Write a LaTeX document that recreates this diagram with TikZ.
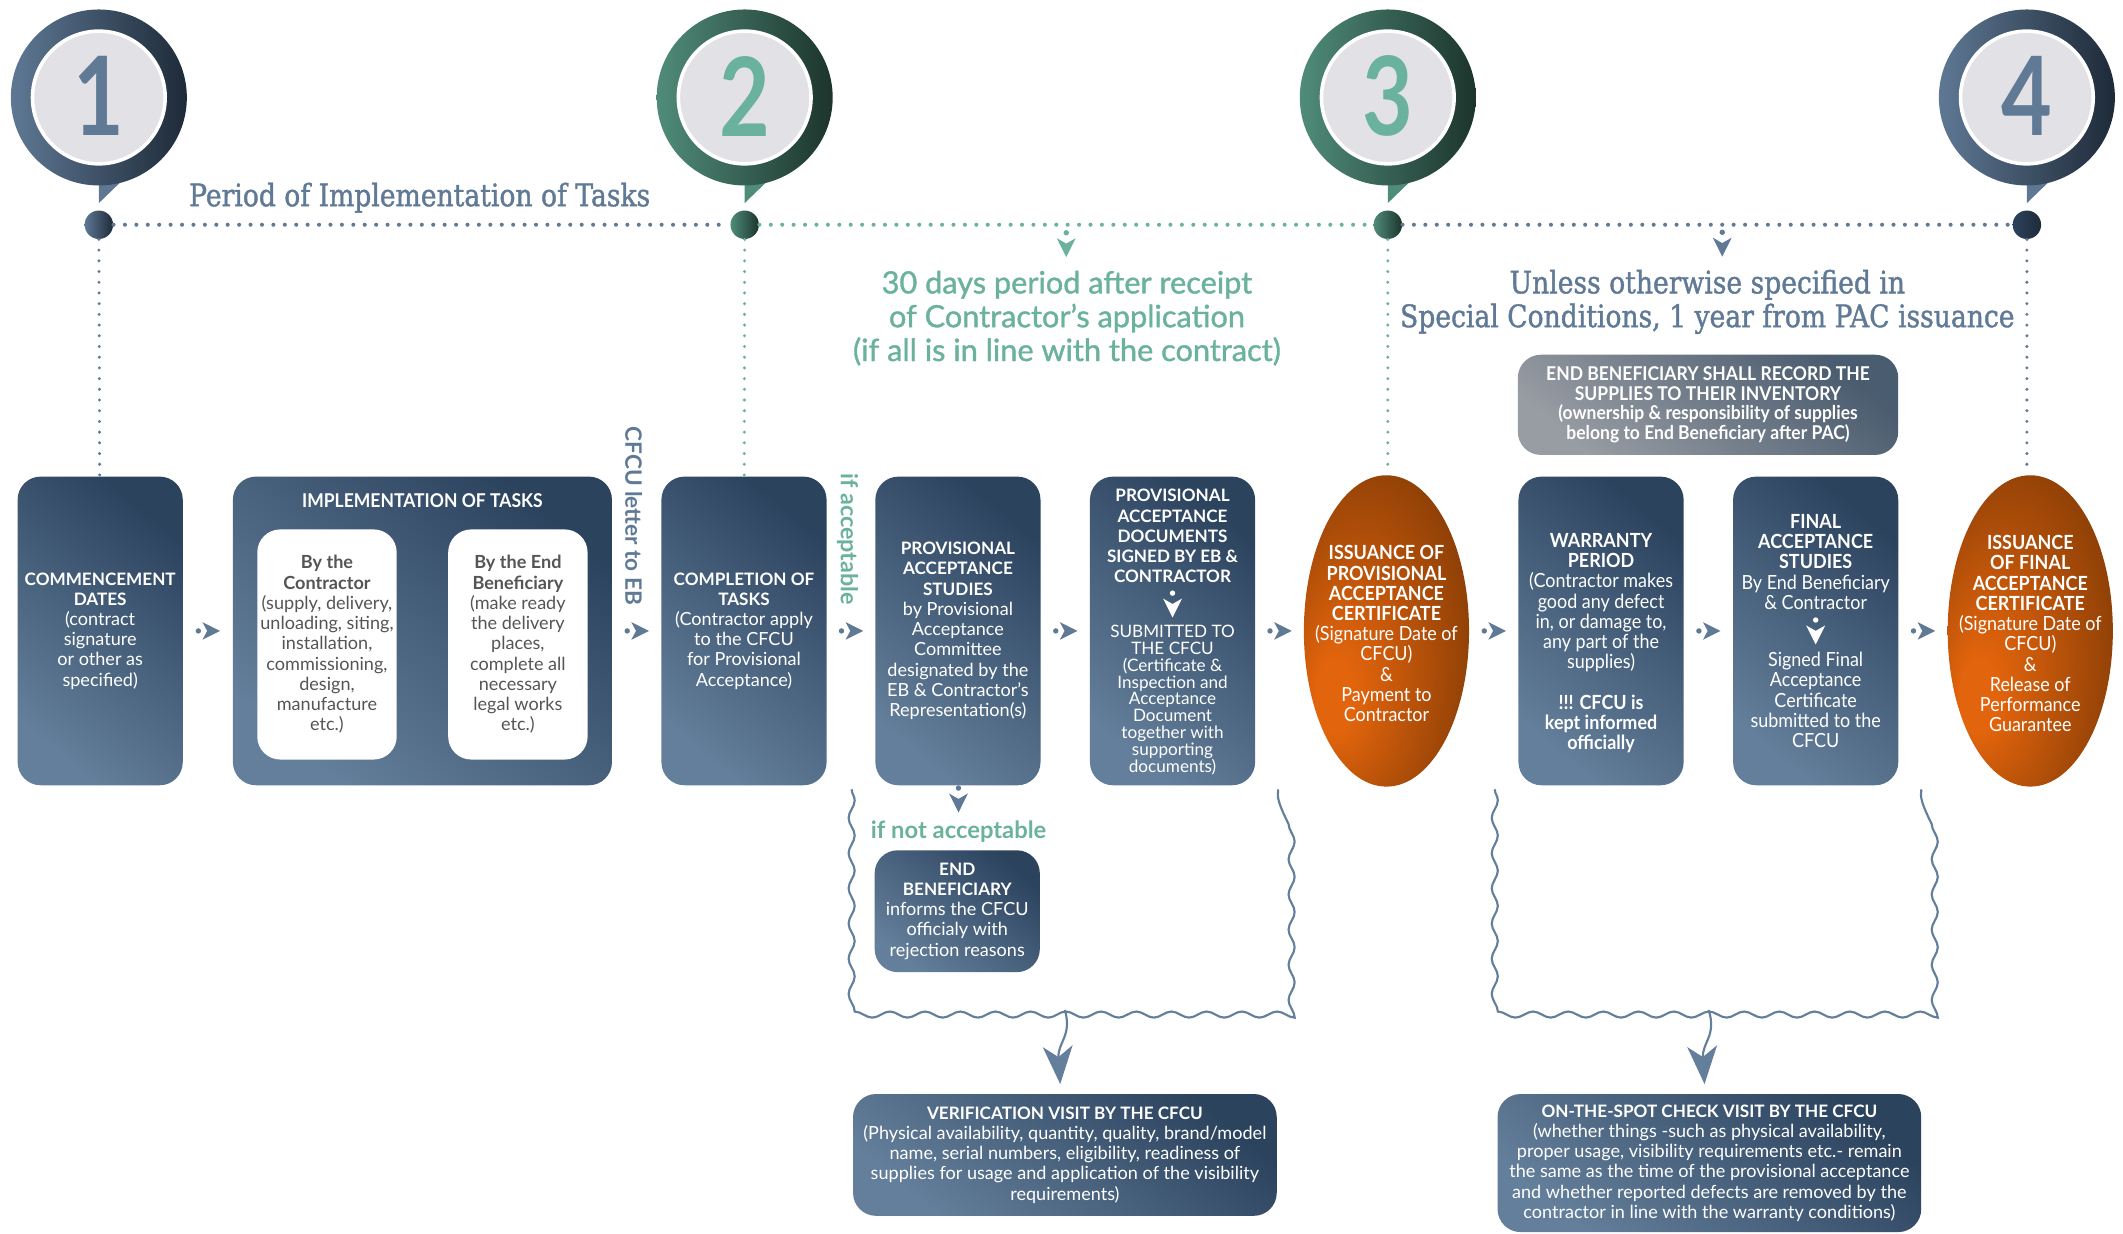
\documentclass[tikz,border=0pt]{standalone}
\usepackage{fontspec}
\setmainfont{Lato}
\newfontfamily\condfont[FakeStretch=0.92]{Lato}
\newfontfamily\digitfont[FakeStretch=0.8]{Lato}
\newfontfamily\medfont[FakeBold=1.2]{Lato}
\newfontfamily\slabfont[FakeStretch=0.86, FakeBold=1.3]{DejaVu Serif}
\usetikzlibrary{positioning, arrows.meta, calc, shapes.geometric, decorations.pathmorphing, decorations.markings}
\definecolor{navy}{RGB}{44,67,94}
\definecolor{slatebox}{RGB}{100,127,155}
\definecolor{slatetext}{RGB}{96,122,150}
\definecolor{mint}{RGB}{106,178,158}
\definecolor{pinslate}{RGB}{94,120,148}
\definecolor{pindark}{RGB}{30,42,56}
\definecolor{ringgreen}{RGB}{80,140,122}
\definecolor{ringdark}{RGB}{28,52,44}
\definecolor{pale}{RGB}{225,225,230}
\definecolor{burnt}{RGB}{226,100,12}
\definecolor{rust}{RGB}{98,45,4}
\definecolor{stonegray}{RGB}{152,156,163}
\definecolor{stonedark}{RGB}{74,92,111}
\definecolor{inktext}{RGB}{85,85,88}
\pgfdeclareradialshading{ovalglow}{\pgfpoint{-18bp}{-12bp}}{color(0bp)=(burnt); color(6bp)=(burnt); color(46bp)=(rust)}
\newcommand{\bodysize}{\fontsize{7.6}{8.5}\selectfont}
\newcommand{\condsize}{\condfont\fontsize{8.2}{8.5}\selectfont}
\newcommand{\hd}[1]{{\fontsize{7.2}{8.5}\selectfont\bfseries #1}}

\begin{document}
\begin{tikzpicture}[x=0.02cm, y=-0.02cm,
    box/.style={rounded corners=0.34cm, top color=navy, bottom color=slatebox, shading angle=-40, text=white, align=center, font=\bodysize, inner sep=1pt, minimum width=2.44cm, minimum height=4.56cm},
    oval/.style={ellipse, shade, shading=ovalglow, inner sep=0pt, minimum width=2.44cm, minimum height=4.6cm},
    whitebox/.style={fill=white, rounded corners=0.34cm, text=inktext, align=center, font=\bodysize, minimum width=2.06cm, minimum height=3.4cm, inner sep=1pt},
    boxtext/.style={text=white, align=center, font=\bodysize, inner sep=0pt},
    tdot/.style={circle, inner sep=0pt, minimum size=0.42cm},
    hdots/.style={line width=1.7pt, line cap=round, dash pattern=on 0pt off 4.8pt},
    vdots/.style={line width=1.4pt, line cap=round, dash pattern=on 0pt off 4.5pt},
    wavy/.style={draw=slatebox, line width=0.9pt, decorate, decoration={snake, amplitude=0.045cm, segment length=0.52cm}},
    bigarrow/.style={draw=slatebox, line width=0.9pt, -{Stealth[length=0.56cm, width=0.44cm, inset=0.16cm]}, shorten >=0.14cm},
    flowmark/.style={decorate, decoration={markings, mark=at position 0.5 with {\fill[slatetext] (-7,0) circle (2); \fill[slatetext] (-4,6.5) -- (9,0) -- (-4,-6.5) -- (-0.5,0) -- cycle;}}},
    dropmark/.style={decorate, decoration={markings, mark=at position 0.5 with {\fill[#1] (-8,0) circle (2); \fill[#1] (-4,7) -- (10,0) -- (-4,-7) -- (0,0) -- cycle;}}}
  ]
  \useasboundingbox (0,0) rectangle (1568,911);

  % numbered pins
  \foreach \px/\n/\ringc/\ringd/\numc in {73/1/pinslate/pindark/slatetext, 550/2/ringgreen/ringdark/mint, 1025/3/ringgreen/ringdark/mint, 1497/4/pinslate/pindark/slatetext} {
    \fill[\ringc] (\px,125) -- (\px+30,121) -- (\px,150) -- cycle;
    \shade[left color=\ringc, right color=\ringd] (\px,72) circle (65);
    \filldraw[fill=pale, draw=white, line width=1.5pt] (\px,72) circle (49);
    \node[font=\digitfont\bfseries\fontsize{46}{46}\selectfont, text=\numc] (num\n) at (\px,71) {\n};
  }

  % timeline
  \node[tdot, left color=pinslate, right color=pindark] (d1) at (73,166) {};
  \node[tdot, left color=ringgreen, right color=ringdark] (d2) at (550,166) {};
  \node[tdot, left color=ringgreen, right color=ringdark] (d3) at (1025,166) {};
  \node[tdot, left color=navy, right color=pindark] (d4) at (1497,166) {};
  \draw[hdots, slatetext] (d1) -- (d2);
  \draw[hdots, mint] (d2) -- (d3);
  \draw[hdots, slatetext] (d3) -- (d4);

  \node[font=\slabfont\fontsize{13}{14}\selectfont, text=slatetext] (period) at (310,146) {Period of Implementation of Tasks};
  \node[font=\medfont\fontsize{12.9}{14.2}\selectfont, text=mint, align=center] (thirty) at (788,235) {30 days period after receipt\\of Contractor’s application\\(if all is in line with the contract)};
  \node[font=\slabfont\fontsize{13}{14.2}\selectfont, text=slatetext, align=center] (unless) at (1261,223) {Unless otherwise specified in\\Special Conditions, 1 year from PAC issuance};
  \coordinate (t23) at ($(d2)!0.5!(d3)$);
  \coordinate (t34) at (1272,166);
  \path[dropmark=mint] (t23) -- (t23 |- thirty.north);
  \path[dropmark=slatetext] (t34) -- (t34 |- unless.north);

  % main row
  \node[box] (commence) at (74,466) {\hd{COMMENCEMENT}\\\hd{DATES}\\(contract\\signature\\or other as\\specified)};
  \node[box, minimum width=5.6cm] (impl) at (312,466) {};
  \node[boxtext, font=\condfont\bfseries\fontsize{8}{9}\selectfont] (impltitle) at (312,370) {IMPLEMENTATION OF TASKS};
  \node[whitebox] (bycontr) at (241.5,476) {\textbf{By the}\\\textbf{Contractor}\\(supply, delivery,\\unloading, siting,\\installation,\\commissioning,\\design,\\manufacture\\etc.)};
  \node[whitebox] (byeb) at (382.5,476) {\textbf{By the End}\\\textbf{Beneficiary}\\(make ready\\the delivery\\places,\\complete all\\necessary\\legal works\\etc.)};
  \node[box] (complete) at (549.5,466) {\hd{COMPLETION OF}\\\hd{TASKS}\\(Contractor apply\\to the CFCU\\for Provisional\\Acceptance)};
  \node[box] (pastudy) at (707.5,466) {\hd{PROVISIONAL}\\\hd{ACCEPTANCE}\\\hd{STUDIES}\\by Provisional\\Acceptance\\Committee\\designated by the\\EB \& Contractor’s\\Representation(s)};
  \node[box] (padocs) at (866,466) {};
  \node[boxtext] (docstop) at (866,396) {\hd{PROVISIONAL}\\\hd{ACCEPTANCE}\\\hd{DOCUMENTS}\\\hd{SIGNED BY EB \&}\\\hd{CONTRACTOR}};
  \node[boxtext, font=\fontsize{7.2}{7.1}\selectfont] (docsbot) at (866,517) {SUBMITTED TO\\THE CFCU\\(Certificate \&\\Inspection and\\Acceptance\\Document\\together with\\supporting\\documents)};
  \path[dropmark=white] (docstop) -- (docsbot);
  \node[oval] (pac) at (1024,466) {};
  \node[boxtext, font=\condsize] (pactext) at (1024,468) {\textbf{ISSUANCE OF}\\\textbf{PROVISIONAL}\\\textbf{ACCEPTANCE}\\\textbf{CERTIFICATE}\\(Signature Date of\\CFCU)\\\&\\Payment to\\Contractor};
  \node[box] (warranty) at (1182.5,466) {};
  \node[boxtext, font=\condsize] (warrtext) at (1182.5,475) {\textbf{WARRANTY}\\\textbf{PERIOD}\\(Contractor makes\\good any defect\\in, or damage to,\\any part of the\\supplies)\\[8.5pt]\textbf{!!! CFCU is}\\\textbf{kept informed}\\\textbf{officially}};
  \node[box] (fastudy) at (1341,466) {};
  \node[boxtext, font=\condsize] (fatop) at (1341,415) {\textbf{FINAL}\\\textbf{ACCEPTANCE}\\\textbf{STUDIES}\\By End Beneficiary\\\& Contractor};
  \node[boxtext, font=\condsize] (fabot) at (1341,517) {Signed Final\\Acceptance\\Certificate\\submitted to the\\CFCU};
  \path[dropmark=white] (fatop) -- (fabot);
  \node[oval] (fac) at (1499.5,466) {};
  \node[boxtext, font=\condsize] (factext) at (1499.5,468) {\textbf{ISSUANCE}\\\textbf{OF FINAL}\\\textbf{ACCEPTANCE}\\\textbf{CERTIFICATE}\\(Signature Date of\\CFCU)\\\&\\Release of\\Performance\\Guarantee};
  \node[box, top color=stonedark, bottom color=stonegray, shading angle=-40, minimum width=5.62cm, minimum height=1.48cm, font=\condfont\bfseries\fontsize{8}{8.3}\selectfont] (record) at (1261.5,299) {END BENEFICIARY SHALL RECORD THE\\SUPPLIES TO THEIR INVENTORY\\(ownership \& responsibility of supplies\\belong to End Beneficiary after PAC)};

  % timeline drops
  \draw[vdots, slatetext] (d1) -- (commence);
  \draw[vdots, mint] (d2) -- (complete);
  \draw[vdots, mint] (d3) -- (d3 |- pac.north);
  \draw[vdots, slatetext] (d4) -- (d4 |- fac.north);

  % flow marks
  \path[flowmark] (commence) -- (impl);
  \path[flowmark] (impl) -- (complete);
  \path[flowmark] (complete) -- (pastudy);
  \path[flowmark] (pastudy) -- (padocs);
  \path[flowmark] (padocs) -- (pac);
  \path[flowmark] (pac) -- (warranty);
  \path[flowmark] (warranty) -- (fastudy);
  \path[flowmark] (fastudy) -- (fac);

  \node[rotate=-90, font=\bfseries\fontsize{9.5}{10}\selectfont, text=slatetext] (letter) at (468,381) {CFCU letter to EB};
  \node[rotate=-90, font=\bfseries\fontsize{9.8}{10}\selectfont, text=mint] (ifok) at (626,398) {if acceptable};
  \node[font=\bfseries\fontsize{10}{10}\selectfont, text=mint] (ifnot) at (708,614) {if not acceptable};
  \path[dropmark=slatetext] (pastudy) -- (ifnot);
  \node[box, minimum height=1.8cm] (reject) at (707,673) {\hd{END}\\\hd{BENEFICIARY}\\informs the CFCU\\officialy with\\rejection reasons};

  % checks by the CFCU
  \draw[wavy] (629,583) -- (629,746) -- (944,746) -- (944,583);
  \draw[wavy] (1104,583) -- (1104,746) -- (1419,746) -- (1419,583);
  \coordinate (lb) at (786.5,746);
  \coordinate (rb) at (1262,746);
  \node[box, minimum width=6.26cm, minimum height=1.8cm] (verify) at (786.5,853) {\hd{VERIFICATION VISIT BY THE CFCU}\\(Physical availability, quantity, quality, brand/model\\name, serial numbers, eligibility, readiness of\\supplies for usage and application of the visibility\\requirements)};
  \node[box, minimum width=6.26cm, minimum height=2.04cm] (onspot) at (1262.5,859) {\hd{ON-THE-SPOT CHECK VISIT BY THE CFCU}\\(whether things -such as physical availability,\\proper usage, visibility requirements etc.- remain\\the same as the time of the provisional acceptance\\and whether reported defects are removed by the\\contractor in line with the warranty conditions)};
  \draw[bigarrow] (lb) .. controls (792,765) and (781,770) .. (verify);
  \draw[bigarrow] (rb) .. controls (1268,765) and (1257,770) .. (onspot);
\end{tikzpicture}
\end{document}
